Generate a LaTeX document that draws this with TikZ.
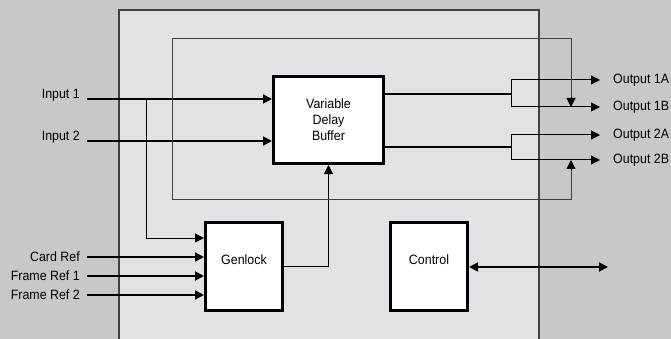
\documentclass[tikz,border=0pt]{standalone}
\usepackage{fontspec}
\setmainfont{Liberation Sans}[FakeStretch=0.92]
\usetikzlibrary{arrows.meta}
\definecolor{bggray}{RGB}{200,200,202}
\definecolor{cardgray}{RGB}{225,226,230}
\definecolor{edgegray}{RGB}{64,64,64}
\tikzset{
  blk/.style={draw=black, line width=3pt, fill=white, inner sep=0pt,
    minimum width=77pt, minimum height=88pt, align=center,
    font=\fontsize{13.5}{16}\selectfont},
  lbl/.style={font=\fontsize{13.5}{16}\selectfont, inner sep=0pt},
  tip/.style={-{Triangle[length=9pt,width=9pt]}},
  sig/.style={line width=1.8pt},
  tap/.style={line width=1pt},
}
\begin{document}
\begin{tikzpicture}[x=1pt,y=-1pt]
\useasboundingbox (0,0) rectangle (671,339);
\clip (0,0) rectangle (671,339);
\fill[bggray] (0,0) rectangle (671,339);
% card outline
\draw[edgegray, line width=1.6pt, fill=cardgray] (119,10) rectangle (539,360);
% blocks
\node[blk, minimum width=110pt, minimum height=87pt] (vdb) at (328.5,120) {Variable\\Delay\\Buffer};
\node[blk, label={[lbl, yshift=7pt]center:Genlock}] (gl) at (244,266.5) {};
\node[blk, label={[lbl, yshift=7pt]center:Control}] (ctl) at (429,266.5) {};
% inputs
\coordinate (in1) at (87,99);
\coordinate (in2) at (87,141);
\node[lbl, anchor=base east] at ([xshift=-7pt]in1) {Input 1};
\node[lbl, anchor=base east] at ([xshift=-7pt]in2) {Input 2};
\draw[sig, tip] (in1) -- (vdb.west |- in1);
\draw[sig, tip] (in2) -- (vdb.west |- in2);
\coordinate (j1) at (146,99);
\draw[tap, tip] (j1) |- ([yshift=28.5pt]gl.west);
% references
\foreach \y/\t [count=\i] in {257/Card Ref, 276/Frame Ref 1, 295/Frame Ref 2}{
  \coordinate (ref\i) at (87,\y);
  \node[lbl, anchor=east] at ([xshift=-7pt]ref\i) {\t};
  \draw[sig, tip] (ref\i) -- (gl.west |- ref\i);
}
\draw[tap, tip] (gl.east) -| (vdb.south);
% outputs
\coordinate (sp1) at (511,94);
\coordinate (sp2) at (511,147);
\draw[sig] (vdb.east |- sp1) -- (sp1);
\draw[sig] (vdb.east |- sp2) -- (sp2);
\node[lbl, anchor=west] (o1a) at (613,80) {Output 1A};
\node[lbl, anchor=west] (o1b) at (613,107) {Output 1B};
\node[lbl, anchor=west] (o2a) at (613,135) {Output 2A};
\node[lbl, anchor=west] (o2b) at (613,160) {Output 2B};
\draw[tap, tip] (sp1) |- ([xshift=-13pt]o1a.west);
\draw[tap, tip] (sp1) |- ([xshift=-13pt]o1b.west);
\draw[tap, tip] (sp2) |- ([xshift=-13pt]o2a.west);
\draw[tap, tip] (sp2) |- ([xshift=-13pt]o2b.west);
% bypass loop
\coordinate (b1) at (571,107);
\coordinate (b2) at (571,160);
\draw[tap, edgegray] (b1) ++(0,-9) |- (172,39) -- (172,199) -| ([yshift=-9pt]b2);
\draw[tap, tip] (571,97) -- (b1);
\draw[tap, tip] (571,170) -- (b2);
% control port
\coordinate (cio) at (608,267);
\draw[sig, {Triangle[length=9pt,width=9pt]}-{Triangle[length=9pt,width=9pt]}] (ctl.east |- cio) -- (cio);
\end{tikzpicture}
\end{document}
